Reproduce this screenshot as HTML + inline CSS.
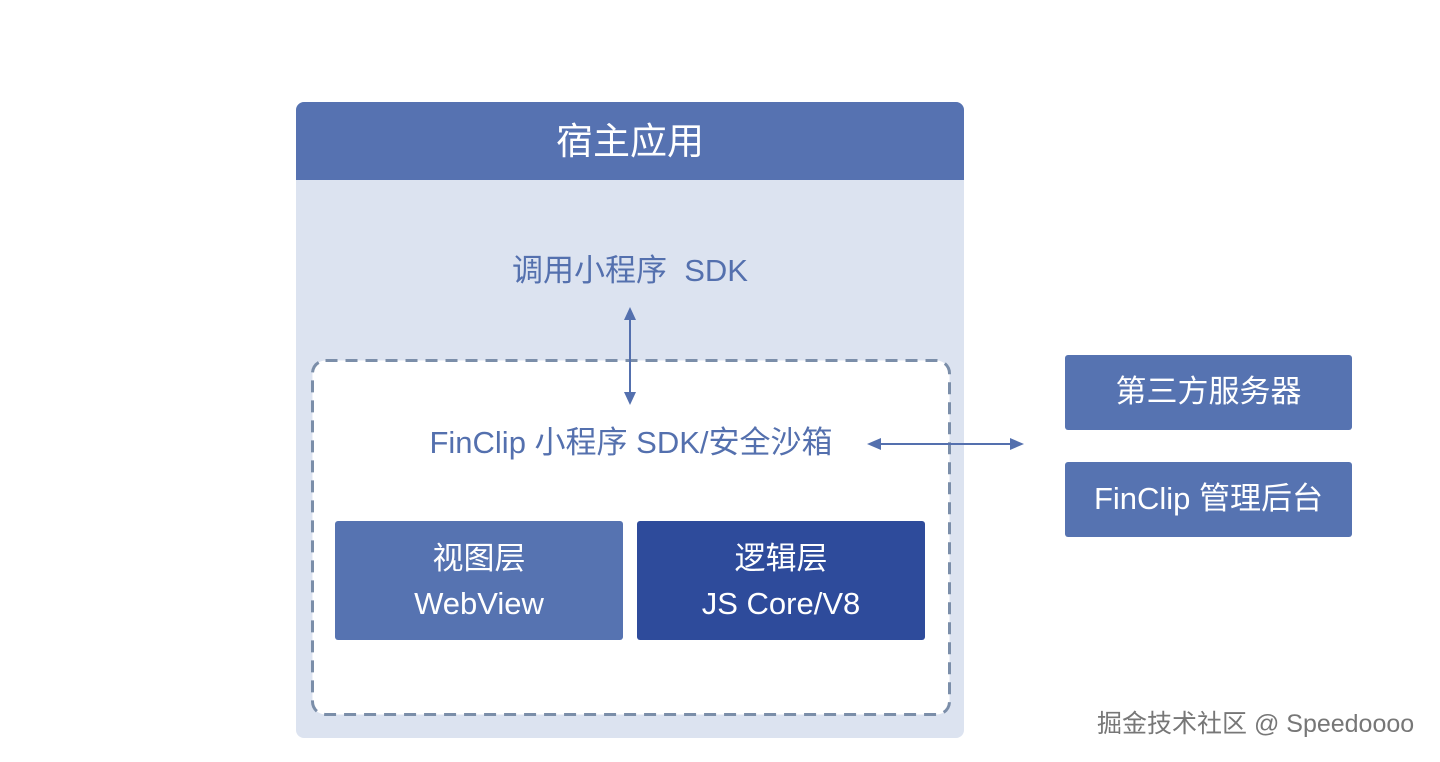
<!DOCTYPE html>
<html><head><meta charset="utf-8"><style>
body{margin:0;width:1440px;height:762px;background:#fff;position:relative;overflow:hidden;font-family:"Liberation Sans","Noto Sans CJK SC",sans-serif}
.a{position:absolute;box-sizing:border-box}
.t{position:absolute;text-align:center;white-space:nowrap}
</style></head><body>
<div class="a" style="left:296px;top:102px;width:668px;height:636px;background:#dce3f0;border-radius:8px;overflow:hidden">
 <div class="a" style="left:0;top:0;width:668px;height:78px;background:#5672b1"></div>
</div>
<div class="t" style="left:296px;width:668px;top:117px;font-size:37px;color:#fff;line-height:50px">宿主应用</div>
<div class="t" style="left:296px;width:668px;top:251px;font-size:31px;color:#5470ae;line-height:40px">调用小程序&nbsp; SDK</div>
<svg class="a" style="left:0;top:0" width="1440" height="762">
 <rect x="312.5" y="360.5" width="637" height="354" rx="13" fill="#fff" stroke="#7b8ea9" stroke-width="3" stroke-dasharray="12 8"/>
</svg>
<div class="t" style="left:261px;width:740px;top:423px;font-size:31px;color:#5470ae;line-height:40px">FinClip 小程序 SDK/安全沙箱</div>
<div class="a" style="left:335px;top:521px;width:288px;height:119px;background:#5673b1;border-radius:3px"></div>
<div class="t" style="left:335px;width:288px;top:536px;font-size:31px;color:#fff;line-height:45px">视图层<br>WebView</div>
<div class="a" style="left:637px;top:521px;width:288px;height:119px;background:#2e4b9b;border-radius:3px"></div>
<div class="t" style="left:637px;width:288px;top:536px;font-size:31px;color:#fff;line-height:45px">逻辑层<br>JS Core/V8</div>
<div class="a" style="left:1065px;top:355px;width:287px;height:75px;background:#5673b1;border-radius:3px"></div>
<div class="t" style="left:1065px;width:287px;top:372px;font-size:31px;color:#fff;line-height:40px">第三方服务器</div>
<div class="a" style="left:1065px;top:462px;width:287px;height:75px;background:#5673b1;border-radius:3px"></div>
<div class="t" style="left:1065px;width:287px;top:479px;font-size:31px;color:#fff;line-height:40px">FinClip 管理后台</div>
<svg class="a" style="left:0;top:0" width="1440" height="762">
 <g stroke="#5470ae" stroke-width="2" fill="#5470ae">
  <line x1="630" y1="316" x2="630" y2="396"/>
  <polygon points="630,307 624,320 636,320" stroke="none"/>
  <polygon points="630,405 624,392 636,392" stroke="none"/>
  <line x1="876" y1="444" x2="1016" y2="444"/>
  <polygon points="867,444 881,438 881,450" stroke="none"/>
  <polygon points="1024,444 1010,438 1010,450" stroke="none"/>
 </g>
</svg>
<div class="t" style="left:1097px;top:707px;font-size:25px;color:#777;line-height:34px;text-shadow:0 0 2px #fff,0 0 2px #fff">掘金技术社区 @ Speedoooo</div>
</body></html>
